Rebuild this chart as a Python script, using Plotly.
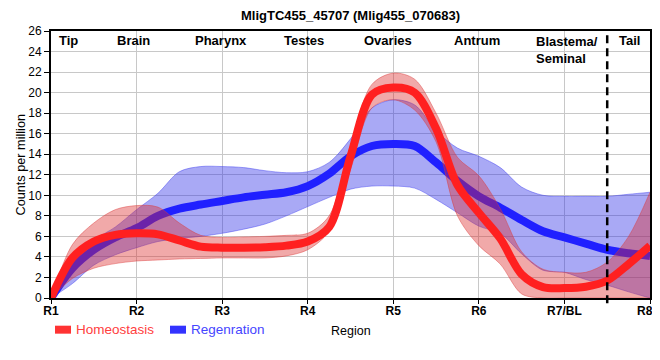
import plotly.graph_objects as go

# sample positions along the region axis (R1 = 0 ... R8 = 7)
xpos = [0, 0.25, 0.5, 0.75, 1, 1.25, 1.5, 1.75, 2, 2.25, 2.5, 2.75, 3, 3.25, 3.5,
        3.75, 4, 4.25, 4.5, 4.75, 5, 5.25, 5.5, 5.75, 6, 6.25, 6.5, 6.75, 7]

tick_vals = [0, 1, 2, 3, 4, 5, 6, 7]
tick_text = ["R1", "R2", "R3", "R4", "R5", "R6", "R7/BL", "R8/T"]

homeo_mean = [0, 3.9, 5.5, 6.15, 6.3, 6.2, 5.6, 5.0, 4.9, 4.9, 4.95, 5.1, 5.5, 6.9, 13.8,
              19.8, 20.5, 20.0, 16.5, 11.0, 8.3, 5.8, 2.3, 1.06, 0.97, 1.1, 1.7, 3.3, 5.1]
homeo_upper = [0, 5.2, 7.3, 8.6, 9.0, 8.85, 7.3, 6.1, 5.9, 5.95, 6.0, 6.1, 6.3, 8.0, 14.8,
               20.8, 21.9, 21.3, 18.0, 13.7, 11.9, 8.7, 4.5, 2.8, 2.5, 2.5, 3.5, 6.0, 10.3]
homeo_lower = [0, 1.9, 2.9, 3.35, 3.6, 3.7, 3.8, 3.85, 3.9, 3.9, 3.9, 4.1, 4.7, 6.5, 12.5,
               18.5, 19.3, 18.3, 15.2, 8.0, 5.1, 3.3, 0.4, 0, 0, 0, 0, 0, 0]

regen_mean = [0, 2.9, 4.7, 5.9, 6.8, 8.0, 8.7, 9.1, 9.45, 9.8, 10.05, 10.3, 10.9, 12.1, 13.8,
              14.8, 15.0, 14.8, 13.2, 11.4, 9.9, 8.8, 7.6, 6.5, 5.9, 5.3, 4.7, 4.35, 4.1]
regen_upper = [0, 3.3, 5.6, 6.9, 8.6, 10.2, 12.3, 12.8, 12.8, 12.7, 12.4, 12.2, 12.3, 13.2, 15.5,
               18.5, 19.3, 18.8, 16.3, 14.6, 13.8, 12.7, 10.8, 10.0, 9.9, 9.9, 9.9, 10.1, 10.3]
regen_lower = [0, 1.4, 3.2, 4.2, 4.9, 5.5, 5.8, 6.0, 6.3, 6.7, 7.2, 8.0, 8.9, 9.8, 10.6,
               10.9, 10.9, 10.7, 9.6, 8.3, 7.0, 6.3, 4.3, 2.7, 2.5, 1.8, 1.25, 0.6, 0.0]

region_labels = ["Tip", "Brain", "Pharynx", "Testes", "Ovaries", "Antrum", "Tail"]
region_label_x = [0.21, 0.96, 1.99, 2.96, 3.94, 4.98, 6.76]

FONT = "Arial, Liberation Sans, sans-serif"
RED_LINE = "#ff2020"
BLUE_LINE = "#2020ff"
RED_FILL = "rgba(220,40,40,0.40)"
BLUE_FILL = "rgba(40,40,230,0.40)"

# plot-area geometry (page pixels) used only to place paper-referenced decorations
PL, PW, PB, PH = 51, 599, 298.5, 268

def px(x):
    return (x - PL) / PW

def py(y):
    return (PB - y) / PH

fig = go.Figure()

def band(lower, upper, fill, edge):
    fig.add_trace(go.Scatter(x=xpos, y=lower, mode="lines", line=dict(color=edge, width=1, shape="spline", smoothing=0.9),
                             showlegend=False, hoverinfo="skip"))
    fig.add_trace(go.Scatter(x=xpos, y=upper, mode="lines", line=dict(color=edge, width=1, shape="spline", smoothing=0.9),
                             fill="tonexty", fillcolor=fill, showlegend=False, hoverinfo="skip"))

band(regen_lower, regen_upper, BLUE_FILL, "rgba(60,60,240,0.45)")
fig.add_trace(go.Scatter(x=xpos, y=regen_mean, mode="lines", name="Regenration",
                         line=dict(color=BLUE_LINE, width=8, shape="spline", smoothing=0.9), showlegend=False))
band(homeo_lower, homeo_upper, RED_FILL, "rgba(220,60,60,0.45)")
fig.add_trace(go.Scatter(x=xpos, y=homeo_mean, mode="lines", name="Homeostasis",
                         line=dict(color=RED_LINE, width=8, shape="spline", smoothing=0.9), showlegend=False))

# dashed separator
fig.add_shape(type="line", xref="x", yref="paper", x0=6.5, x1=6.5, y0=-0.02, y1=1,
              line=dict(color="black", width=2.5, dash="8px,5px"))

annotations = []
for lab, lx in zip(region_labels, region_label_x):
    annotations.append(dict(x=lx, y=py(40), xref="x", yref="paper", text="<b>%s</b>" % lab, showarrow=False,
                            xanchor="center", yanchor="middle", font=dict(family=FONT, size=13, color="black")))
annotations.append(dict(x=5.64, y=py(32), xref="x", yref="paper", text="<b>Blastema/<br>Seminal</b>", showarrow=False,
                        xanchor="left", yanchor="top", align="left", font=dict(family=FONT, size=13, color="black")))
# axis titles
annotations.append(dict(x=px(20), y=0.5, xref="paper", yref="paper", text="Counts per million", textangle=-90,
                        showarrow=False, xanchor="center", yanchor="middle", font=dict(family=FONT, size=12.7, color="black")))
annotations.append(dict(x=px(351), y=py(331.5), xref="paper", yref="paper", text="Region",
                        showarrow=False, xanchor="center", yanchor="middle", font=dict(family=FONT, size=12.5, color="black")))
# legend
annotations.append(dict(x=px(73.5), y=py(330.3), xref="paper", yref="paper", text="Homeostasis",
                        showarrow=False, xanchor="left", yanchor="middle", font=dict(family=FONT, size=13.5, color="#ff4040")))
annotations.append(dict(x=px(188.5), y=py(330.3), xref="paper", yref="paper", text="Regenration",
                        showarrow=False, xanchor="left", yanchor="middle", font=dict(family=FONT, size=13.5, color="#4545ff")))
fig.add_shape(type="rect", xref="paper", yref="paper", x0=px(55), x1=px(71),
              y0=py(334.3), y1=py(326.3), fillcolor="#ff3333", line=dict(width=0))
fig.add_shape(type="rect", xref="paper", yref="paper", x0=px(170), x1=px(186),
              y0=py(334.3), y1=py(326.3), fillcolor="#3333ff", line=dict(width=0))

fig.update_layout(
    width=652, height=352,
    margin=dict(l=43, r=10, t=22.5, b=61.5, autoexpand=False),
    paper_bgcolor="white", plot_bgcolor="white",
    title=dict(text="<b>MligTC455_45707 (Mlig455_070683)</b>", x=0.5, xref="paper", y=1 - 7 / 352,
               yanchor="middle", font=dict(family=FONT, size=13, color="black")),
    font=dict(family=FONT, size=12, color="black"),
    annotations=annotations,
    showlegend=False,
)
fig.update_xaxes(range=[0, 7], tickvals=tick_vals, ticktext=["<b>%s</b>" % t for t in tick_text],
                 showgrid=True, gridcolor="#c8c8c8", gridwidth=1, zeroline=False,
                 showline=True, linecolor="black", linewidth=2, mirror=True,
                 ticks="outside", ticklen=4, tickcolor="black", tickwidth=1, ticklabelstandoff=-3,
                 ticklabeloverflow="allow", automargin=False,
                 tickfont=dict(family=FONT, size=12, color="black"))
fig.update_yaxes(range=[0, 26], dtick=2, showgrid=True, gridcolor="#c8c8c8", gridwidth=1, zeroline=False,
                 showline=True, linecolor="black", linewidth=2, mirror=True, automargin=False,
                 ticks="outside", ticklen=5, tickcolor="black", tickwidth=1,
                 tickfont=dict(family=FONT, size=12, color="black"))

fig.write_html("out.html")
